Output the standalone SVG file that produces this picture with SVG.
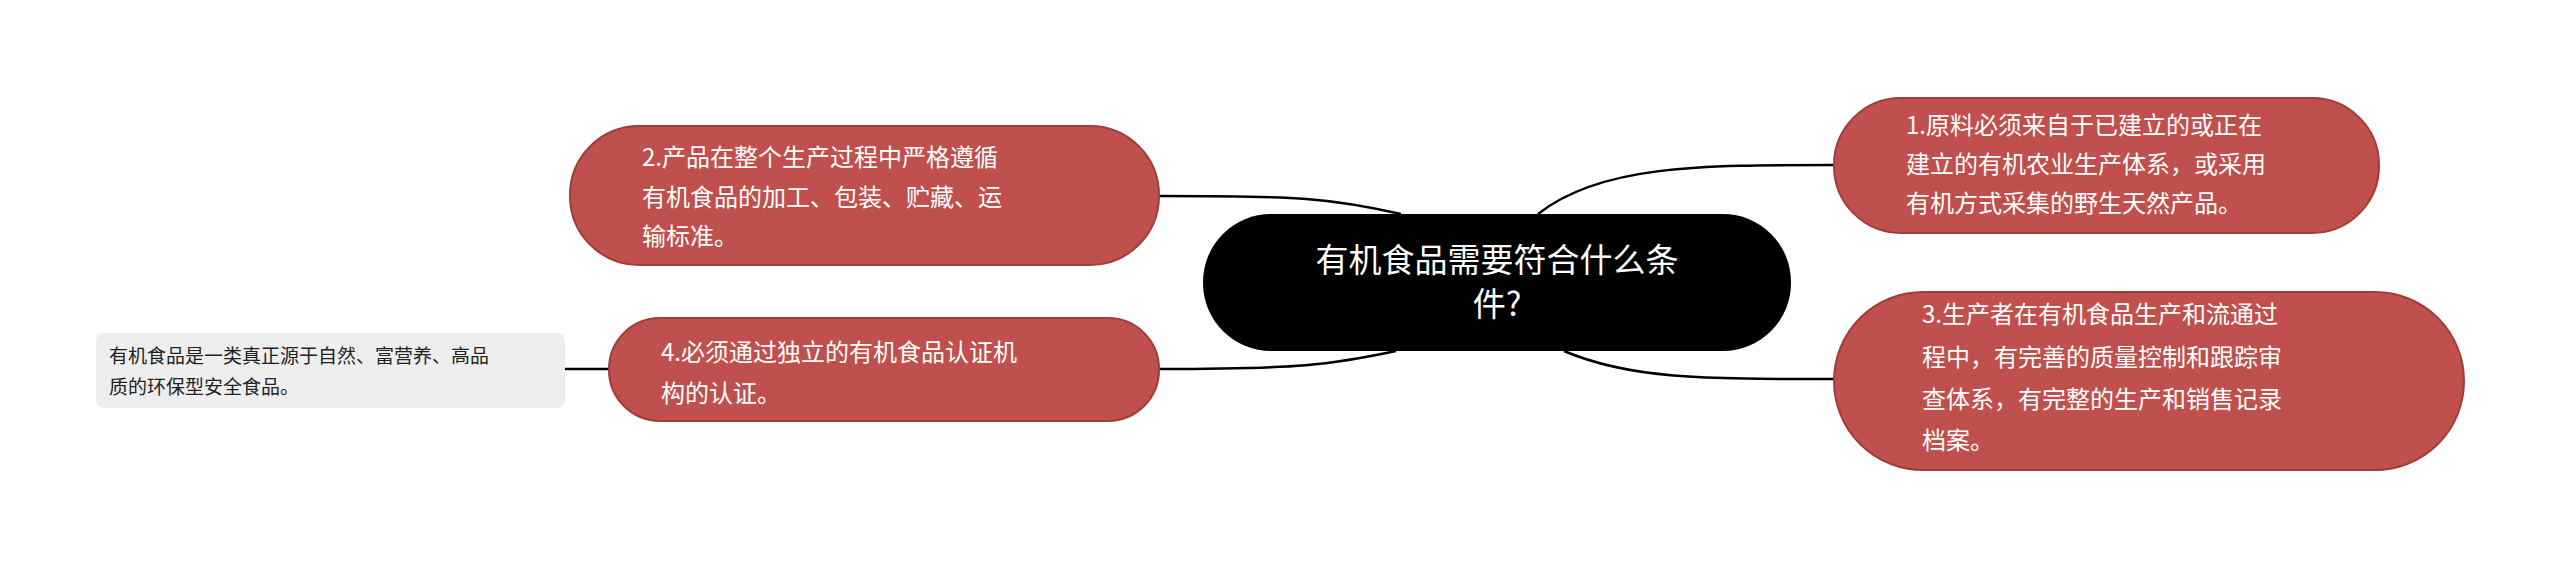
<svg xmlns="http://www.w3.org/2000/svg" width="2560" height="567" viewBox="0 0 2560 567">
<style>
.r{fill:#c0504d;stroke:#a03d3a;stroke-width:2}
.rt{font-family:"Noto Sans CJK SC","Noto Sans",sans-serif;font-size:24px;fill:#fff}
.c{fill:none;stroke:#000;stroke-width:2.5}
</style>
<rect width="2560" height="567" fill="#fff"/>
<g id="connectors">
<path class="c" d="M1159,196 C1300,196 1330,198 1401,214"/>
<path class="c" d="M1159,369 C1300,369 1330,365 1396,351"/>
<path class="c" d="M1538,214 C1600,165 1700,165 1834,165"/>
<path class="c" d="M1564,351 C1630,379 1700,379 1834,379"/>
<path class="c" d="M565,369 L609,369"/>
</g>
<g id="center">
<rect x="1203" y="214" width="588" height="137" rx="68" fill="#000"/>
<text x="1497" y="272" text-anchor="middle" font-family="Noto Sans CJK SC,sans-serif" font-size="33" fill="#fff">有机食品需要符合什么条</text>
<text x="1497" y="316" text-anchor="middle" font-family="Noto Sans CJK SC,sans-serif" font-size="33" fill="#fff">件?</text>
</g>
<g id="n1">
<rect class="r" x="1834" y="98" width="545" height="135" rx="67"/>
<text class="rt" x="1906" y="134">1.原料必须来自于已建立的或正在</text>
<text class="rt" x="1906" y="173">建立的有机农业生产体系，或采用</text>
<text class="rt" x="1906" y="212">有机方式采集的野生天然产品。</text>
</g>
<g id="n3">
<rect class="r" x="1834" y="292" width="630" height="178" rx="89"/>
<text class="rt" x="1922" y="323">3.生产者在有机食品生产和流通过</text>
<text class="rt" x="1922" y="366">程中，有完善的质量控制和跟踪审</text>
<text class="rt" x="1922" y="408">查体系，有完整的生产和销售记录</text>
<text class="rt" x="1922" y="449">档案。</text>
</g>
<g id="n2">
<rect class="r" x="570" y="126" width="589" height="139" rx="69"/>
<text class="rt" x="642" y="166">2.产品在整个生产过程中严格遵循</text>
<text class="rt" x="642" y="206">有机食品的加工、包装、贮藏、运</text>
<text class="rt" x="642" y="245">输标准。</text>
</g>
<g id="n4">
<rect class="r" x="609" y="318" width="550" height="103" rx="51"/>
<text class="rt" x="661" y="361">4.必须通过独立的有机食品认证机</text>
<text class="rt" x="661" y="402">构的认证。</text>
</g>
<g id="leaf">
<rect x="96" y="333" width="469" height="75" rx="8" fill="#eeeeee"/>
<text x="109" y="363" font-family="Noto Sans CJK SC,sans-serif" font-size="19" fill="#222">有机食品是一类真正源于自然、富营养、高品</text>
<text x="109" y="394" font-family="Noto Sans CJK SC,sans-serif" font-size="19" fill="#222">质的环保型安全食品。</text>
</g>
</svg>
